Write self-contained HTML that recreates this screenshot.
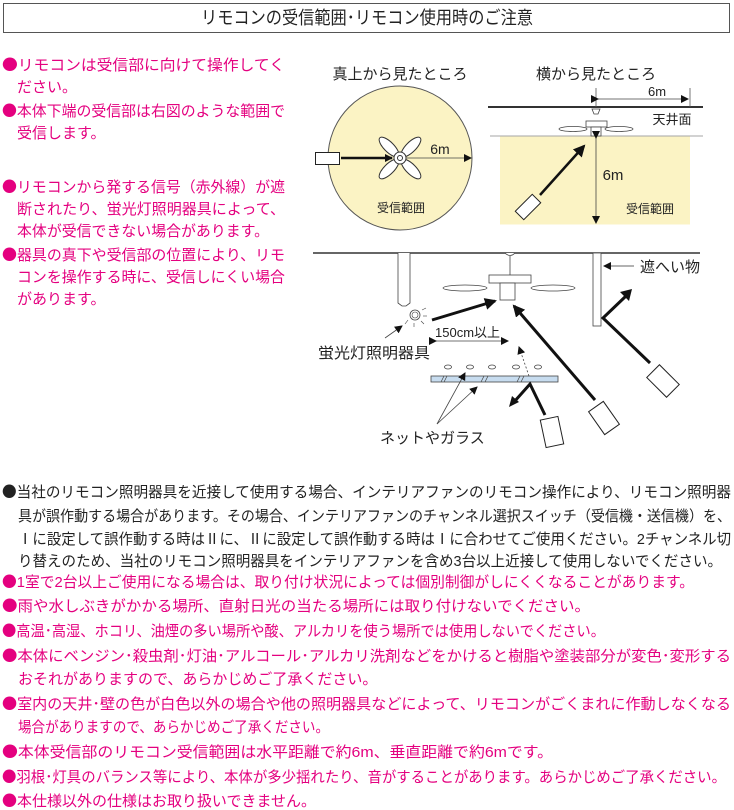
<!DOCTYPE html>
<html><head><meta charset="utf-8"><style>
html,body{margin:0;padding:0;background:#fff;}
svg{display:block;}
text{font-family:"Liberation Sans","Noto Sans CJK JP",sans-serif;}
.p{fill:#e4007f;font-size:15px;}
.k{fill:#222;font-size:15px;}
.b{font-family:"Noto Sans CJK JP",sans-serif;}
</style></head><body>
<svg width="734" height="810" viewBox="0 0 734 810" xmlns="http://www.w3.org/2000/svg">
<defs>
<marker id="ah" markerWidth="8" markerHeight="8" refX="7" refY="4" orient="auto" markerUnits="userSpaceOnUse"><path d="M0,0 L8,4 L0,8 z" fill="#111"/></marker>
<marker id="ab" markerWidth="12" markerHeight="12" refX="10" refY="6" orient="auto" markerUnits="userSpaceOnUse"><path d="M0,0 L12,6 L0,12 z" fill="#111"/></marker>
</defs>
<rect x="3.5" y="3.5" width="726" height="29" fill="#fff" stroke="#555" stroke-width="1"/>
<text x="367" y="24" text-anchor="middle" font-size="18" fill="#222" textLength="332" lengthAdjust="spacingAndGlyphs">リモコンの受信範囲･リモコン使用時のご注意</text>

<text class="p" x="2" y="70" textLength="283" lengthAdjust="spacingAndGlyphs"><tspan class="b">●</tspan>リモコンは受信部に向けて操作してく</text>
<text class="p" x="17" y="92">ださい。</text>
<text class="p" x="2" y="116" textLength="283" lengthAdjust="spacingAndGlyphs"><tspan class="b">●</tspan>本体下端の受信部は右図のような範囲で</text>
<text class="p" x="17" y="138">受信します。</text>
<text class="p" x="2" y="192" textLength="283" lengthAdjust="spacingAndGlyphs"><tspan class="b">●</tspan>リモコンから発する信号（赤外線）が遮</text>
<text class="p" x="17" y="214" textLength="268" lengthAdjust="spacingAndGlyphs">断されたり、蛍光灯照明器具によって、</text>
<text class="p" x="17" y="236" textLength="252" lengthAdjust="spacingAndGlyphs">本体が受信できない場合があります。</text>
<text class="p" x="2" y="260" textLength="283" lengthAdjust="spacingAndGlyphs"><tspan class="b">●</tspan>器具の真下や受信部の位置により、リモ</text>
<text class="p" x="17" y="282" textLength="268" lengthAdjust="spacingAndGlyphs">コンを操作する時に、受信しにくい場合</text>
<text class="p" x="17" y="304">があります。</text>

<text x="400" y="79" text-anchor="middle" font-size="15" fill="#222">真上から見たところ</text>
<circle cx="400" cy="158" r="72" fill="#fbf3c4" stroke="#555" stroke-width="1"/>
<rect x="315.5" y="152.5" width="24" height="12" fill="#fff" stroke="#222"/>
<line x1="341" y1="158" x2="392" y2="158" stroke="#111" stroke-width="2.5" marker-end="url(#ah)"/>
<g fill="#fff" stroke="#333" stroke-width="1">
<ellipse cx="389" cy="147" rx="13" ry="5" transform="rotate(45 389 147)"/>
<ellipse cx="411" cy="147" rx="13" ry="5" transform="rotate(-45 411 147)"/>
<ellipse cx="389" cy="169" rx="13" ry="5" transform="rotate(-45 389 169)"/>
<ellipse cx="411" cy="169" rx="13" ry="5" transform="rotate(45 411 169)"/>
<circle cx="400" cy="158" r="6"/><circle cx="400" cy="158" r="2.5"/>
</g>
<line x1="406" y1="158" x2="471" y2="158" stroke="#444" stroke-width="0.8" marker-end="url(#ah)"/>
<text x="440" y="154" font-size="14" fill="#222" text-anchor="middle">6m</text>
<text x="401" y="212" font-size="12" fill="#222" text-anchor="middle">受信範囲</text>

<text x="596" y="79" text-anchor="middle" font-size="15" fill="#222">横から見たところ</text>
<line x1="488" y1="107" x2="703" y2="107" stroke="#333" stroke-width="2"/>
<line x1="596" y1="88" x2="596" y2="107" stroke="#555" stroke-width="0.8"/>
<line x1="690" y1="88" x2="690" y2="107" stroke="#555" stroke-width="0.8"/>
<line x1="598" y1="99" x2="688" y2="99" stroke="#444" stroke-width="0.8" marker-start="url(#ah)" marker-end="url(#ah)"/>
<text x="657" y="96" font-size="13" fill="#222" text-anchor="middle">6m</text>
<text x="672" y="124" font-size="13" fill="#222" text-anchor="middle">天井面</text>
<line x1="490" y1="136" x2="703" y2="136" stroke="#888" stroke-width="0.8"/>
<rect x="500" y="136.5" width="190" height="88" fill="#fbf3c4"/>
<g fill="#fff" stroke="#444" stroke-width="0.8">
<path d="M592,109 h8 l-2,5 h-4 z"/>
<rect x="586" y="121" width="21" height="6"/>
<ellipse cx="573" cy="129" rx="14" ry="2.5"/>
<ellipse cx="619" cy="129" rx="14" ry="2.5"/>
<rect x="591" y="127" width="10" height="9"/>
</g>
<line x1="596" y1="138" x2="596" y2="223" stroke="#444" stroke-width="0.8" marker-start="url(#ah)" marker-end="url(#ah)"/>
<text x="613" y="180" font-size="15" fill="#222" text-anchor="middle">6m</text>
<text x="650" y="213" font-size="12" fill="#222" text-anchor="middle">受信範囲</text>
<rect x="-12" y="-6" width="24" height="12" fill="#fff" stroke="#222" transform="translate(528,207) rotate(-45)"/>
<line x1="540" y1="195" x2="584" y2="146" stroke="#111" stroke-width="2.5" marker-end="url(#ab)"/>

<line x1="313" y1="253" x2="700" y2="253" stroke="#333" stroke-width="1.5"/>
<path d="M398,253 V303 L402,306 H406 L410,303 V253" fill="#fff" stroke="#444" stroke-width="0.8"/>
<circle cx="415" cy="315" r="5" fill="#fff" stroke="#444" stroke-width="0.8"/>
<circle cx="415" cy="315" r="3" fill="none" stroke="#444" stroke-width="0.6"/>
<g stroke="#444" stroke-width="0.6"><line x1="422" y1="310" x2="426" y2="308"/><line x1="423" y1="316" x2="427" y2="316"/><line x1="421" y1="321" x2="424" y2="324"/><line x1="414" y1="323" x2="414" y2="327"/><line x1="408" y1="320" x2="405" y2="324"/></g>
<g fill="#fff" stroke="#444" stroke-width="0.8">
<path d="M505,253 q5,5 10,0"/>
<line x1="510" y1="256" x2="510" y2="275"/>
<rect x="489" y="275" width="42" height="8"/>
<ellipse cx="465" cy="288" rx="22" ry="3"/>
<ellipse cx="553" cy="288" rx="22" ry="3"/>
<rect x="500" y="283" width="15" height="17"/>
</g>
<rect x="593" y="253" width="8" height="73" fill="#fff" stroke="#444" stroke-width="0.8"/>
<line x1="634" y1="266" x2="604" y2="266" stroke="#333" stroke-width="0.8" marker-end="url(#ah)"/>
<text x="640" y="272" font-size="15" fill="#222">遮へい物</text>
<line x1="432" y1="320" x2="495" y2="301" stroke="#111" stroke-width="3" marker-end="url(#ab)"/>
<text x="435" y="337" font-size="13" fill="#222">150cm以上</text>
<line x1="436" y1="341" x2="508" y2="341" stroke="#444" stroke-width="0.8" marker-start="url(#ah)" marker-end="url(#ah)"/>
<line x1="385" y1="338" x2="402" y2="326" stroke="#444" stroke-width="0.8" marker-end="url(#ah)"/>
<text x="318" y="358" font-size="15" fill="#222" textLength="112" lengthAdjust="spacingAndGlyphs">蛍光灯照明器具</text>
<g fill="#fff" stroke="#444" stroke-width="0.8">
<ellipse cx="448" cy="367" rx="3.5" ry="2"/><ellipse cx="470" cy="367" rx="3.5" ry="2"/><ellipse cx="492" cy="367" rx="3.5" ry="2"/><ellipse cx="516" cy="367" rx="3.5" ry="2"/><ellipse cx="538" cy="367" rx="3.5" ry="2"/>
</g>
<rect x="431" y="376" width="127" height="6" fill="#c7dcef" stroke="#444" stroke-width="0.8"/>
<g stroke="#444" stroke-width="0.7"><line x1="441" y1="382" x2="444" y2="376"/><line x1="444" y1="382" x2="447" y2="376"/><line x1="481" y1="382" x2="484" y2="376"/><line x1="485" y1="382" x2="488" y2="376"/><line x1="517" y1="382" x2="520" y2="376"/><line x1="521" y1="382" x2="524" y2="376"/></g>
<line x1="529" y1="376" x2="519" y2="347" stroke="#444" stroke-width="0.8" stroke-dasharray="2,2" marker-end="url(#ah)"/>
<polyline points="545,415 530,384 514,402" fill="none" stroke="#111" stroke-width="3"/>
<path d="M509,407 L512,396 L519,402 z" fill="#111"/>
<rect x="-9" y="-14" width="18" height="28" fill="#fff" stroke="#222" transform="translate(552,432) rotate(-12)"/>
<line x1="595" y1="400" x2="514" y2="306" stroke="#111" stroke-width="3" marker-end="url(#ab)"/>
<rect x="-9" y="-14" width="18" height="28" fill="#fff" stroke="#222" transform="translate(604,418) rotate(-35)"/>
<polyline points="650,363 603,318 626,296" fill="none" stroke="#111" stroke-width="3"/>
<path d="M632,289 L629,301 L620,292 z" fill="#111"/>
<rect x="-9" y="-14" width="18" height="28" fill="#fff" stroke="#222" transform="translate(663,381) rotate(-45)"/>
<line x1="437" y1="424" x2="465" y2="373" stroke="#444" stroke-width="0.8" marker-end="url(#ah)"/>
<line x1="437" y1="424" x2="477" y2="387" stroke="#444" stroke-width="0.8" marker-end="url(#ah)"/>
<text x="380" y="443" font-size="15" fill="#222">ネットやガラス</text>

<text class="k" x="2" y="497" textLength="729" lengthAdjust="spacingAndGlyphs"><tspan class="b">●</tspan>当社のリモコン照明器具を近接して使用する場合、インテリアファンのリモコン操作により、リモコン照明器</text>
<text class="k" x="18" y="521" textLength="713" lengthAdjust="spacingAndGlyphs">具が誤作動する場合があります。その場合、インテリアファンのチャンネル選択スイッチ（受信機・送信機）を、</text>
<text class="k" x="18" y="544" textLength="713" lengthAdjust="spacingAndGlyphs">Ⅰに設定して誤作動する時はⅡに、Ⅱに設定して誤作動する時はⅠに合わせてご使用ください。2チャンネル切</text>
<text class="k" x="18" y="566" textLength="704" lengthAdjust="spacingAndGlyphs">り替えのため、当社のリモコン照明器具をインテリアファンを含め3台以上近接して使用しないでください。</text>
<text class="p" x="2" y="587" textLength="692" lengthAdjust="spacingAndGlyphs"><tspan class="b">●</tspan>1室で2台以上ご使用になる場合は、取り付け状況によっては個別制御がしにくくなることがあります。</text>
<text class="p" x="2" y="611" textLength="588" lengthAdjust="spacingAndGlyphs"><tspan class="b">●</tspan>雨や水しぶきがかかる場所、直射日光の当たる場所には取り付けないでください。</text>
<text class="p" x="2" y="636" textLength="603" lengthAdjust="spacingAndGlyphs"><tspan class="b">●</tspan>高温･高湿、ホコリ、油煙の多い場所や酸、アルカリを使う場所では使用しないでください。</text>
<text class="p" x="2" y="661" textLength="729" lengthAdjust="spacingAndGlyphs"><tspan class="b">●</tspan>本体にベンジン･殺虫剤･灯油･アルコール･アルカリ洗剤などをかけると樹脂や塗装部分が変色･変形する</text>
<text class="p" x="18" y="684">おそれがありますので、あらかじめご了承ください。</text>
<text class="p" x="2" y="709" textLength="729" lengthAdjust="spacingAndGlyphs"><tspan class="b">●</tspan>室内の天井･壁の色が白色以外の場合や他の照明器具などによって、リモコンがごくまれに作動しなくなる</text>
<text class="p" x="18" y="732" textLength="311" lengthAdjust="spacingAndGlyphs">場合がありますので、あらかじめご了承ください。</text>
<text class="p" x="2" y="757" textLength="551" lengthAdjust="spacingAndGlyphs"><tspan class="b">●</tspan>本体受信部のリモコン受信範囲は水平距離で約6m、垂直距離で約6mです。</text>
<text class="p" x="2" y="782" textLength="724" lengthAdjust="spacingAndGlyphs"><tspan class="b">●</tspan>羽根･灯具のバランス等により、本体が多少揺れたり、音がすることがあります。あらかじめご了承ください。</text>
<text class="p" x="2" y="806" textLength="314" lengthAdjust="spacingAndGlyphs"><tspan class="b">●</tspan>本仕様以外の仕様はお取り扱いできません。</text>
</svg>
</body></html>
